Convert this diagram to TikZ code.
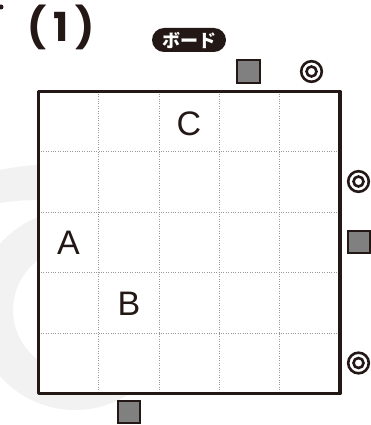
\documentclass[tikz,border=0pt]{standalone}
\usepackage{fontspec}
\usetikzlibrary{calc}
\setmainfont{Liberation Sans}
\newfontfamily\numfont{Poppins}
\newfontfamily\cjk{Noto Sans CJK JP}
\definecolor{wm}{gray}{0.95}
\definecolor{boxgray}{gray}{0.5}
\definecolor{ink}{HTML}{231815}
\begin{document}
\begin{tikzpicture}[x=1pt,y=-1pt,
  gridline/.style={gray!80,line width=0.9pt,dash pattern=on 1pt off 1.4pt},
  border/.style={ink,line width=3.5pt,line join=round},
  sqmark/.style={draw=ink,fill=boxgray,line width=2.2pt,minimum size=22.5pt,inner sep=0pt},
  ringline/.style={draw=ink,line width=2.6pt},
  letter/.style={font=\fontsize{34}{34}\selectfont,text=ink,inner sep=0pt},
  pill/.style={fill=ink,rounded corners=12pt,minimum width=74pt,minimum height=24pt,inner sep=0pt,text=white,font=\cjk\bfseries\fontsize{18}{18}\selectfont}
]
\useasboundingbox (0,0) rectangle (371,425);
% watermark
\begin{scope}
\clip (0,0) rectangle (371,425);
\fill[wm,even odd rule] (75,310) circle[radius=100] (75,310) circle[radius=62];
\fill[wm] (0,170) .. controls (15,167) and (30,165) .. (40,165) -- (40,200) .. controls (25,200) and (12,201) .. (0,203) -- cycle;
\end{scope}
% dot
\fill[ink] (1,7) circle[radius=2.5];
% title
\node[font=\numfont\bfseries\fontsize{40}{40}\selectfont,text=ink,inner sep=0pt] (title) at (61,27) {(\,1\,)};
\node[pill] (board) at (189,40) {ボード};
% grid
\coordinate (nw) at (38.5,91.5);
\coordinate (se) at (340,393.5);
\fill[white] (nw) rectangle (se);
\foreach \i in {1,2,3,4} {
  \draw[gridline] ($(nw)+(\i*60.3,0)$) -- ($(nw)+(\i*60.3,302)$);
  \draw[gridline] ($(nw)+(0,\i*60.4)$) -- ($(nw)+(301.5,\i*60.4)$);
}
\draw[border] (nw) rectangle (se);
% letters
\node[letter] (C) at (189,123.5) {C};
\node[letter] (A) at (68.5,243) {A};
\node[letter] (B) at (129,304) {B};
% marks
\node[sqmark] (s1) at (248.5,71.5) {};
\node[sqmark] (s2) at (359,242) {};
\node[sqmark] (s3) at (129,412) {};
\coordinate (r1) at (311.5,71.5);
\coordinate (r2) at (358.5,181.5);
\coordinate (r3) at (358.5,363);
\foreach \r in {r1,r2,r3} {
  \draw[ringline] (\r) circle[radius=10.3pt];
  \draw[ringline] (\r) circle[radius=5pt];
}
\end{tikzpicture}
\end{document}
